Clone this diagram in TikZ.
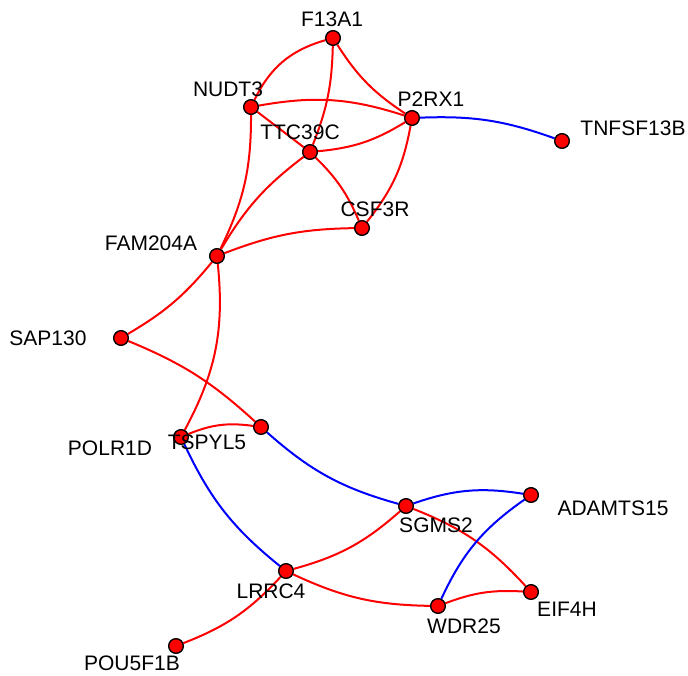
\documentclass[tikz,border=0pt]{standalone}
\usepackage{fontspec}
\setmainfont{Liberation Sans}
\begin{document}
\begin{tikzpicture}[x=1pt,y=-1pt,
  vertex/.style={circle,draw=black,fill=red,line width=1.2pt,minimum size=14.5pt,inner sep=0pt},
  gene/.style={inner sep=0pt,font=\fontsize{21}{25}\selectfont},
  posedge/.style={draw=red,line width=2pt},
  negedge/.style={draw=blue,line width=2pt}]
\useasboundingbox (0,0) rectangle (688,675);

% vertex positions
\node[vertex] (F13A1) at (333,38) {};
\node[vertex] (NUDT3) at (251,107) {};
\node[vertex] (P2RX1) at (412,118) {};
\node[vertex] (TTC39C) at (310,152) {};
\node[vertex] (TNFSF13B) at (562,141) {};
\node[vertex] (CSF3R) at (362,228) {};
\node[vertex] (FAM204A) at (217,256) {};
\node[vertex] (SAP130) at (121,338) {};
\node[vertex] (POLR1D) at (181,437) {};
\node[vertex] (TSPYL5) at (261,427) {};
\node[vertex] (SGMS2) at (406,506) {};
\node[vertex] (ADAMTS15) at (531,495) {};
\node[vertex] (LRRC4) at (286,571) {};
\node[vertex] (WDR25) at (438,606) {};
\node[vertex] (EIF4H) at (531,592) {};
\node[vertex] (POU5F1B) at (176,646) {};

% positive edges
\path[posedge] (F13A1) to[bend right=24] (NUDT3);
\path[posedge] (F13A1) to[bend left=10] (TTC39C);
\path[posedge] (F13A1) to[bend right=12] (P2RX1);
\path[posedge] (NUDT3) to[bend left=14] (P2RX1);
\path[posedge] (NUDT3) to (TTC39C);
\path[posedge] (NUDT3) to[bend left=13] (FAM204A);
\path[posedge] (TTC39C) to[bend right=13] (P2RX1);
\path[posedge] (TTC39C) to[bend left=11] (CSF3R);
\path[posedge] (TTC39C) to[bend right=11] (FAM204A);
\path[posedge] (P2RX1) to[bend left=14] (CSF3R);
\path[posedge] (CSF3R) to[bend right=10] (FAM204A);
\path[posedge] (FAM204A) to[bend left=10] (SAP130);
\path[posedge] (FAM204A) to[bend left=17] (POLR1D);
\path[posedge] (SAP130) to[bend left=10] (TSPYL5);
\path[posedge] (POLR1D) to[bend left=15] (TSPYL5);
\path[posedge] (SGMS2) to[bend left=13] (LRRC4);
\path[posedge] (SGMS2) to[bend left=13] (EIF4H);
\path[posedge] (LRRC4) to[bend right=12] (WDR25);
\path[posedge] (LRRC4) to[bend left=13] (POU5F1B);
\path[posedge] (WDR25) to[bend left=12] (EIF4H);
% negative edges
\path[negedge] (P2RX1) to[bend left=11] (TNFSF13B);
\path[negedge] (TSPYL5) to[bend right=13] (SGMS2);
\path[negedge] (POLR1D) to[bend right=13] (LRRC4);
\path[negedge] (SGMS2) to[bend left=14] (ADAMTS15);
\path[negedge] (WDR25) to[bend left=15] (ADAMTS15);

% vertices again, on top of the edges
\foreach \v in {F13A1,NUDT3,P2RX1,TTC39C,TNFSF13B,CSF3R,FAM204A,SAP130,POLR1D,TSPYL5,SGMS2,ADAMTS15,LRRC4,WDR25,EIF4H,POU5F1B}
  \node[vertex] at (\v) {};

% labels
\node[gene] (lF13A1) at (332,19) {F13A1};
\node[gene] (lNUDT3) at (228,89) {NUDT3};
\node[gene] (lP2RX1) at (431,99) {P2RX1};
\node[gene] (lTTC39C) at (300,132) {TTC39C};
\node[gene] (lTNFSF13B) at (633,128) {TNFSF13B};
\node[gene] (lCSF3R) at (375,209) {CSF3R};
\node[gene] (lFAM204A) at (151,243) {FAM204A};
\node[gene] (lSAP130) at (48,338) {SAP130};
\node[gene] (lPOLR1D) at (110,448) {POLR1D};
\node[gene] (lTSPYL5) at (207,442) {TSPYL5};
\node[gene] (lSGMS2) at (436,525) {SGMS2};
\node[gene] (lADAMTS15) at (613,508) {ADAMTS15};
\node[gene] (lLRRC4) at (271,591) {LRRC4};
\node[gene] (lWDR25) at (464,626) {WDR25};
\node[gene] (lEIF4H) at (567,609) {EIF4H};
\node[gene] (lPOU5F1B) at (132,663) {POU5F1B};
\end{tikzpicture}
\end{document}
